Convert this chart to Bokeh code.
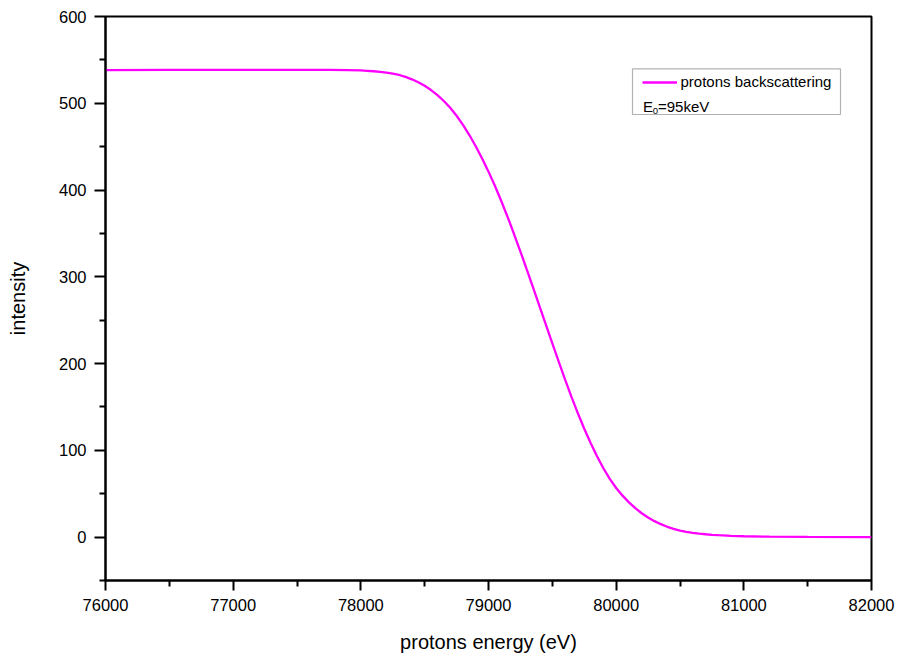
from bokeh.plotting import figure
from bokeh.models import (Range1d, FixedTicker, Legend, LegendItem, BoxAnnotation, Label)
from bokeh.embed import file_html
from bokeh.resources import INLINE

# ---- data ----
energy = [76000, 76500, 77000, 77500, 77750, 77900,
          78000, 78050, 78100, 78150, 78200, 78250, 78300, 78350, 78400, 78450,
          78500, 78550, 78600, 78650, 78700, 78750, 78800, 78850, 78900, 78950,
          79000, 79050, 79100, 79150, 79200, 79250, 79300, 79350, 79400, 79450,
          79500, 79550, 79600, 79650, 79700, 79750, 79800, 79850, 79900, 79950,
          80000, 80050, 80100, 80150, 80200, 80250, 80300, 80350, 80400, 80450,
          80500, 80550, 80600, 80650, 80700, 80750, 80800, 80900, 81000, 81200,
          81500, 82000]
intensity = [538.3, 538.4, 538.5, 538.6, 538.5, 538.2,
             537.8, 537.4, 536.9, 536.3, 535.4, 534.2, 532.6, 530.4, 527.6, 524.2,
             520.1, 515.2, 509.4, 502.6, 494.8, 485.6, 475.1, 463.4, 450.5, 436.4,
             421.2, 404.9, 387.4, 368.8, 349.3, 329.1, 308.4, 287.3, 266.0, 244.6,
             223.3, 202.2, 181.6, 161.7, 142.7, 124.9, 108.4, 93.2, 79.4, 67.2,
             56.6, 47.8, 40.0, 33.3, 27.5, 22.6, 18.4, 14.9, 11.9, 9.5,
             7.6, 6.1, 4.9, 4.0, 3.3, 2.7, 2.2, 1.5, 1.0, 0.5,
             0.2, 0.0]
x_ticks = [76000, 77000, 78000, 79000, 80000, 81000, 82000]
x_minor = [76500, 77500, 78500, 79500, 80500, 81500]
y_ticks = [0, 100, 200, 300, 400, 500, 600]
y_minor = [-50, 50, 150, 250, 350, 450, 550]
series_label = "protons backscattering"
x_label = "protons energy (eV)"
y_label = "intensity"

X0, X1 = 76000, 82000
Y0, Y1 = -50, 600
FONT = "Liberation Sans"

# frame geometry in pixels
FL, FR, FT, FB = 105, 871, 16, 580

def ex(px):
    return X0 + (px - FL) * (X1 - X0) / (FR - FL)

def iy(py):
    return Y1 - (py - FT) * (Y1 - Y0) / (FB - FT)

p = figure(width=897, height=658, output_backend="svg", toolbar_location=None,
           x_range=Range1d(X0, X1), y_range=Range1d(Y0, Y1),
           min_border_left=FL, min_border_right=897 - FR,
           min_border_top=FT, min_border_bottom=658 - FB)
p.background_fill_color = "white"
p.border_fill_color = "white"
p.outline_line_color = "black"
p.outline_line_width = 2
p.xgrid.visible = False
p.ygrid.visible = False

r = p.line(energy, intensity, line_color="#FF00FF", line_width=2.3)

for ax in (p.xaxis[0], p.yaxis[0]):
    ax.axis_line_width = 2
    ax.axis_line_color = "black"
    ax.major_tick_line_width = 2
    ax.minor_tick_line_width = 2
    ax.major_tick_in = 0
    ax.minor_tick_in = 0
    ax.major_label_text_font = FONT
    ax.major_label_text_font_size = "16.5px"
    ax.major_label_text_color = "black"
    ax.axis_label_text_font = FONT
    ax.axis_label_text_font_size = "20px"
    ax.axis_label_text_font_style = "normal"
    ax.axis_label_text_color = "black"

p.xaxis[0].ticker = FixedTicker(ticks=x_ticks, minor_ticks=x_minor)
p.yaxis[0].ticker = FixedTicker(ticks=y_ticks, minor_ticks=y_minor)
p.xaxis[0].major_tick_out = 10
p.xaxis[0].minor_tick_out = 6
p.yaxis[0].major_tick_out = 11
p.yaxis[0].minor_tick_out = 6
p.xaxis[0].major_label_standoff = 8
p.yaxis[0].major_label_standoff = 8
p.xaxis[0].axis_label = x_label
p.yaxis[0].axis_label = y_label
p.xaxis[0].axis_label_standoff = 17
p.yaxis[0].axis_label_standoff = 27

# legend box
box = BoxAnnotation(left=ex(632), right=ex(840), top=iy(68.3), bottom=iy(114),
                    fill_alpha=0, line_color="black", line_width=1.2)
p.add_layout(box)

legend = Legend(items=[LegendItem(label=series_label, renderers=[r])],
                location=(641.5 - FL, FB - 90), margin=0, padding=0,
                border_line_alpha=0, background_fill_alpha=0,
                glyph_width=35, glyph_height=16, label_height=16,
                label_standoff=4, label_text_font=FONT,
                label_text_font_size="15px", label_text_color="black")
p.add_layout(legend)

common = dict(text_font=FONT, text_color="black", text_baseline="alphabetic")
p.add_layout(Label(x=ex(642.5), y=iy(105.7), text="E", text_font_size="15px", **common))
p.add_layout(Label(x=ex(652.3), y=iy(110), text="0", text_font_size="9.5px", **common))
p.add_layout(Label(x=ex(657.5), y=iy(105.7), text="=95keV", text_font_size="15px", **common))

open("out.html", "w").write(file_html(p, INLINE))
